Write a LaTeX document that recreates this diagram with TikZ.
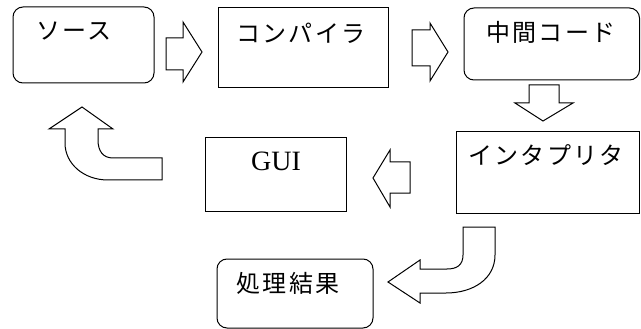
\documentclass[tikz,border=0pt]{standalone}
\usepackage{fontspec}
\setmainfont{Liberation Serif}
\newfontfamily\jp[LetterSpace=10]{Noto Sans CJK JP}
\begin{document}
\begin{tikzpicture}[x=1pt,y=-1pt,
  box/.style={draw=black,line width=1pt,fill=white},
  rbox/.style={box,rounded corners=10pt},
  jtext/.style={font=\jp\fontsize{24}{24}\selectfont,inner sep=0pt},
  btext/.style={font=\fontsize{28}{28}\selectfont,inner sep=0pt},
  blockarrow/.style={draw=black,line width=1pt,fill=white,line join=miter}]
\useasboundingbox (0,0) rectangle (641,329);
% boxes
\draw[rbox] (13,7) rectangle (154,83);
\draw[box] (218,8) rectangle (388,88);
\draw[rbox] (464,8) rectangle (639.5,80);
\draw[box] (456,132) rectangle (639,213);
\draw[box] (205,138) rectangle (346,211);
\draw[rbox] (217,259) rectangle (373,328);
% texts
\node[jtext] (t1) at (74,31) {ソース};
\node[jtext] (t2) at (301,33) {コンパイラ};
\node[jtext] (t3) at (551,32) {中間コード};
\node[jtext] (t4) at (546,155) {インタプリタ};
\node[jtext] (t5) at (288,283) {処理結果};
\node[btext] (t6) at (276,161) {GUI};
% block arrows
\draw[blockarrow] (166,38) -- (183,38) -- (183,22) -- (202,52) -- (183,82) -- (183,70) -- (166,70) -- cycle;
\draw[blockarrow] (412,30) -- (430,30) -- (430,23) -- (448,52) -- (430,81) -- (430,66) -- (412,66) -- cycle;
\draw[blockarrow] (529,85) -- (559,85) -- (559,103) -- (573,103) -- (543,121) -- (515,103) -- (529,103) -- cycle;
\draw[blockarrow] (410,162) -- (390,162) -- (390,150) -- (373,178) -- (390,207) -- (390,193) -- (410,193) -- cycle;
\draw[blockarrow] (82,107) -- (113,129) -- (98,129) -- (98,140)
  .. controls (98,151) and (103,158) .. (113,158) -- (162,158) -- (162,180) -- (108,180)
  .. controls (84,180) and (65,164) .. (65,143) -- (65,129) -- (49,129) -- cycle;
\draw[blockarrow] (463,227) -- (495,227) -- (495,255)
  .. controls (495,279) and (473,293) .. (446,293) -- (420,293) -- (420,303) -- (388,282)
  -- (420,260) -- (420,269) -- (447,269)
  .. controls (457,269) and (463,265) .. (463,255) -- cycle;
\end{tikzpicture}
\end{document}
